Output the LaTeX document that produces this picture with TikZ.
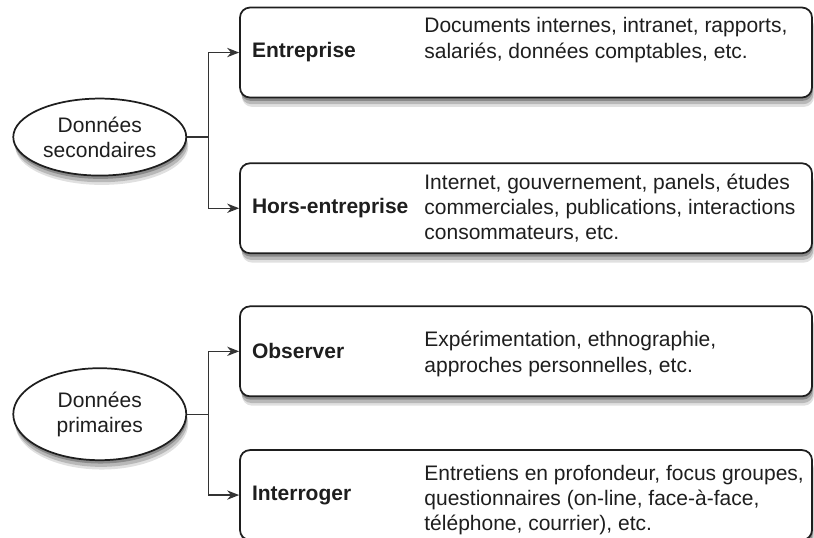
\documentclass[tikz,border=0pt]{standalone}
\usepackage{fontspec}
\setmainfont{Liberation Sans}
\usetikzlibrary{shapes.geometric, arrows.meta, positioning, shadows}
\newlength{\blockwidth}
\setlength{\blockwidth}{429pt}
\newlength{\blockheight}
\setlength{\blockheight}{67.5pt}
\newlength{\blocktextwidth}
\setlength{\blocktextwidth}{411pt}
\newlength{\descshift}
\setlength{\descshift}{138.75pt}
\newcommand{\diagfont}{\fontsize{15.75}{19}\selectfont}
\definecolor{linegray}{HTML}{333333}
\definecolor{inkgray}{HTML}{1E1E1E}
\tikzstyle{softshadow} = [drop shadow={shadow xshift=1.5pt, shadow yshift=-7pt, opacity=0.12, fill=black},
                          drop shadow={shadow xshift=1pt, shadow yshift=-5pt, opacity=0.18, fill=black},
                          drop shadow={shadow xshift=0.5pt, shadow yshift=-2.5pt, opacity=0.25, fill=black}]
\tikzstyle{block} = [rectangle, rounded corners=7.5pt, draw=inkgray, line width=1.3pt, fill=white, text=inkgray, text width=\blocktextwidth, inner xsep=9pt, minimum height=\blockheight, align=left, font=\diagfont\bfseries, softshadow]
\tikzstyle{desc} = [inner sep=0pt, align=left, text=inkgray, font=\diagfont]
\tikzstyle{data} = [ellipse, draw=inkgray, line width=1.3pt, fill=white, text=inkgray, minimum width=129.75pt, inner sep=0pt, align=center, font=\diagfont, softshadow]
\tikzstyle{fork} = [draw=linegray, line width=0.9pt]
\tikzstyle{arrow} = [draw=linegray, line width=0.9pt, -{Stealth[length=9pt, width=7pt]}]

\begin{document}
\begin{tikzpicture}
    \useasboundingbox (0,0) rectangle (610.5pt,-403.5pt);

    % Secondary data
    \node (ent) [block] at (394.5pt,-39.4pt) {Entreprise};
    \node (hors) [block, below=48pt of ent] {Hors-entreprise};

    % Primary data
    \node (obs) [block, below=38.5pt of hors] {Observer};
    \node (int) [block, below=39pt of obs] {Interroger};

    % Descriptions
    \node (entdesc) [desc, right=\descshift of ent.west, yshift=9.4pt] {Documents internes, intranet, rapports,\\salariés, données comptables, etc.};
    \node (horsdesc) [desc, right=\descshift of hors.west] {Internet, gouvernement, panels, études\\commerciales, publications, interactions\\consommateurs, etc.};
    \node (obsdesc) [desc, right=\descshift of obs.west, yshift=-2pt] {Expérimentation, ethnographie,\\approches personnelles, etc.};
    \node (intdesc) [desc, right=\descshift of int.west, yshift=-3.75pt] {Entretiens en profondeur, focus groupes,\\questionnaires (on-line, face-à-face,\\téléphone, courrier), etc.};

    % Ellipses, between their two boxes
    \path (ent.west) -- (hors.west) coordinate[pos=0.5] (secmid);
    \path (obs.west) -- (int.west) coordinate[pos=0.5] (primmid);
    \node (sec) [data, minimum height=57.75pt, left=39pt of secmid, yshift=-5pt] {Données\\secondaires};
    \node (prim) [data, minimum height=69pt, left=39pt of primmid, yshift=6.75pt] {Données\\primaires};

    % ==== Arrows
    \coordinate (secfork) at ([xshift=15.75pt]sec.east);
    \coordinate (primfork) at ([xshift=15.75pt]prim.east);

    \draw [fork] (sec.east) -- (secfork);
    \draw [arrow] (secfork) |- (ent.west);
    \draw [arrow] (secfork) |- (hors.west);

    \draw [fork] (prim.east) -- (primfork);
    \draw [arrow] (primfork) |- (obs.west);
    \draw [arrow] (primfork) |- (int.west);

\end{tikzpicture}
\end{document}
